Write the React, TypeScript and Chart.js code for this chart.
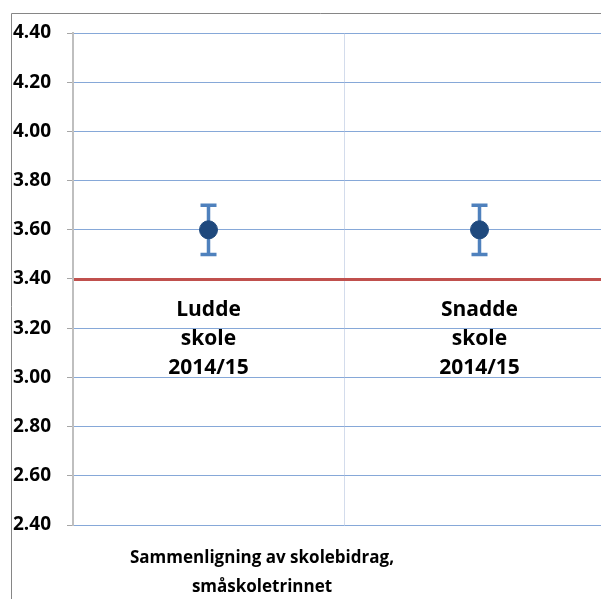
import React, { useEffect, useRef } from "react";
import { Chart, registerables } from "chart.js";

Chart.register(...registerables);

const categories: string[][] = [
  ["Ludde", "skole", "2014/15"],
  ["Snadde", "skole", "2014/15"],
];
const meanValues: number[] = [3.6, 3.6];
const errLow: number[] = [3.5, 3.5];
const errHigh: number[] = [3.7, 3.7];
const yMin = 2.4;
const yMax = 4.4;
const yStep = 0.2;
const referenceLine = 3.4;
const titleLines: string[] = ["Sammenligning av skolebidrag,", "småskoletrinnet"];

const FONT = "'Open Sans', 'Noto Sans', sans-serif";

const errorBarPlugin = {
  id: "errorBars",
  beforeDatasetsDraw(chart: any) {
    const ctx = chart.ctx;
    const x = chart.scales.x;
    const y = chart.scales.y;
    ctx.save();
    ctx.strokeStyle = "#4F81BD";
    ctx.lineWidth = 3.5;
    ctx.lineCap = "butt";
    for (let i = 0; i < meanValues.length; i++) {
      const px = x.getPixelForValue(i);
      const yl = y.getPixelForValue(errLow[i]);
      const yh = y.getPixelForValue(errHigh[i]);
      ctx.beginPath();
      ctx.moveTo(px, yl);
      ctx.lineTo(px, yh);
      ctx.moveTo(px - 8, yl);
      ctx.lineTo(px + 8, yl);
      ctx.moveTo(px - 8, yh);
      ctx.lineTo(px + 8, yh);
      ctx.stroke();
    }
    ctx.restore();
  },
};

const framePlugin = {
  id: "frameAndTitle",
  afterDraw(chart: any) {
    const ctx = chart.ctx;
    ctx.save();
    ctx.strokeStyle = "#868686";
    ctx.lineWidth = 1;
    ctx.beginPath();
    ctx.moveTo(11.5, chart.height);
    ctx.lineTo(11.5, 13.5);
    ctx.lineTo(chart.width, 13.5);
    ctx.stroke();
    ctx.fillStyle = "#000000";
    ctx.font = `bold 17px ${FONT}`;
    ctx.textAlign = "center";
    ctx.textBaseline = "middle";
    titleLines.forEach((t, i) => {
      ctx.fillText(t, 262, 558 + i * 29);
    });
    ctx.restore();
  },
};

export default function App() {
  const ref = useRef<HTMLCanvasElement | null>(null);
  useEffect(() => {
    if (!ref.current) return;
    const chart = new Chart(ref.current, {
      type: "line",
      data: {
        labels: categories,
        datasets: [
          {
            data: meanValues,
            showLine: false,
            pointRadius: 9,
            pointHoverRadius: 9,
            pointBackgroundColor: "#1F497D",
            pointBorderColor: "#1F497D",
            pointBorderWidth: 1,
          },
        ],
      },
      options: {
        animation: false,
        responsive: false,
        maintainAspectRatio: false,
        layout: { padding: { left: 13, top: 33, right: 15, bottom: 74 } },
        plugins: {
          legend: { display: false },
          tooltip: { enabled: false },
          title: { display: false },
        },
        scales: {
          x: {
            type: "category",
            position: { y: referenceLine } as any,
            offset: true,
            z: 1,
            grid: {
              offset: true,
              color: "#D3DCEC",
              lineWidth: 1,
              drawTicks: false,
            },
            border: { color: "#C0504D", width: 3 },
            ticks: {
              color: "#000000",
              padding: 16,
              maxRotation: 0,
              autoSkip: false,
              font: { family: FONT, size: 21, weight: "bold", lineHeight: 1.4 },
            },
          },
          y: {
            min: yMin,
            max: yMax,
            afterFit: (s: any) => {
              s.width = 60;
            },
            grid: {
              color: "#86A8D8",
              lineWidth: 1,
              tickLength: 6,
              tickColor: "#A6A6A6",
            },
            border: { color: "#BFBFBF", width: 2 },
            ticks: {
              stepSize: yStep,
              crossAlign: "far",
              color: "#000000",
              font: { family: FONT, size: 19, weight: "bold" },
              callback: (v: any) => Number(v).toFixed(2),
            },
          },
        },
      },
      plugins: [errorBarPlugin, framePlugin],
    });
    return () => chart.destroy();
  }, []);
  return (
    <div
      style={{
        position: "fixed",
        left: 0,
        top: 0,
        width: 601,
        height: 599,
        overflow: "hidden",
        background: "#ffffff",
      }}
    >
      <canvas ref={ref} width={630} height={599} style={{ width: 630, height: 599, display: "block" }} />
    </div>
  );
}
